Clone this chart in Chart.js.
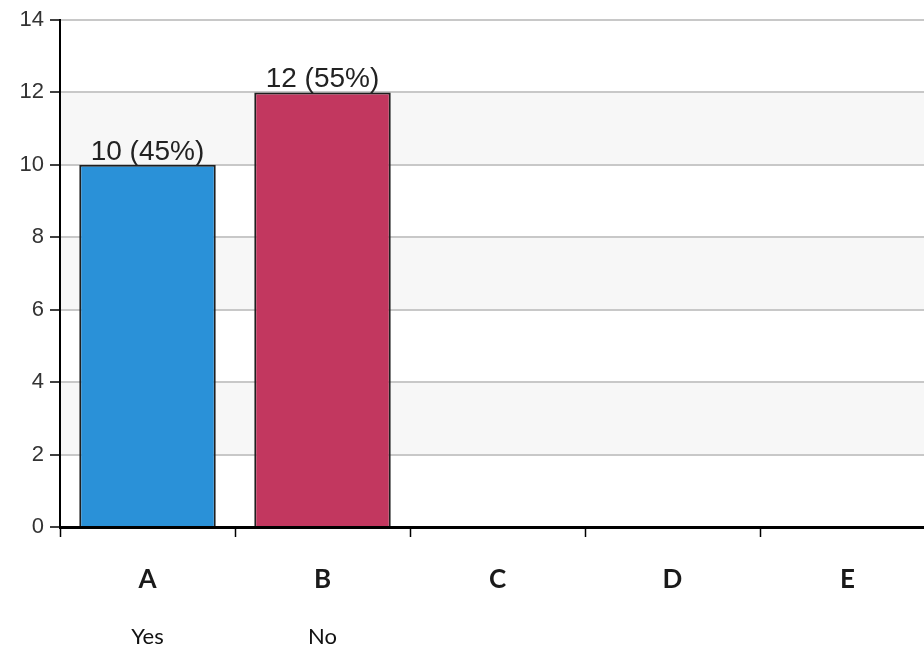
<!DOCTYPE html>
<html>
<head>
<meta charset="utf-8">
<script src="https://cdn.jsdelivr.net/npm/chart.js@4/dist/chart.umd.min.js"></script>
<style>
  html, body { margin: 0; padding: 0; background: #fff; overflow: hidden; }
  #wrap { position: absolute; left: 0; top: 0; width: 935px; height: 648px; }
</style>
</head>
<body>
<div id="wrap"><canvas id="c" width="935" height="648"></canvas></div>
<script>
// ---- data ----
const categories = ['A', 'B', 'C', 'D', 'E'];
const answerLabels = ['Yes', 'No', '', '', ''];
const counts = [10, 12, 0, 0, 0];
const percents = [45, 55, 0, 0, 0];
const barColors = ['#2a91d8', '#c2375f', '#2a91d8', '#c2375f', '#2a91d8'];
const yTicks = [0, 2, 4, 6, 8, 10, 12, 14];
const bandRanges = [[2, 4], [6, 8], [10, 12]];

const bandPlugin = {
  id: 'bands',
  beforeDraw(chart) {
    const { ctx, chartArea, scales } = chart;
    ctx.save();
    ctx.fillStyle = '#f7f7f7';
    bandRanges.forEach(([a, b]) => {
      const y1 = scales.y.getPixelForValue(b);
      const y2 = scales.y.getPixelForValue(a);
      ctx.fillRect(chartArea.left, y1, chartArea.right - chartArea.left, y2 - y1);
    });
    ctx.restore();
  }
};

const labelPlugin = {
  id: 'barLabels',
  afterDatasetsDraw(chart) {
    const { ctx } = chart;
    const meta = chart.getDatasetMeta(0);
    ctx.save();
    ctx.font = '28px "Liberation Sans", Arial, sans-serif';
    ctx.fillStyle = '#222';
    ctx.textAlign = 'center';
    ctx.textBaseline = 'alphabetic';
    meta.data.forEach((bar, i) => {
      if (!counts[i]) return;
      ctx.fillText(counts[i] + ' (' + percents[i] + '%)', bar.x, bar.y - 5);
    });
    ctx.restore();
  }
};

new Chart(document.getElementById('c'), {
  type: 'bar',
  data: {
    labels: categories,
    datasets: [{
      data: counts,
      backgroundColor: barColors,
      borderColor: '#1f1f1f',
      borderWidth: 2,
      categoryPercentage: 1,
      barPercentage: 0.78,
      xAxisID: 'x',
      yAxisID: 'y'
    }]
  },
  options: {
    responsive: false,
    animation: false,
    events: [],
    layout: { padding: { top: 20, left: 0, right: 0, bottom: 0 } },
    plugins: { legend: { display: false }, tooltip: { enabled: false } },
    scales: {
      y: {
        min: 0, max: 14,
        afterFit(scale) { scale.width = 60; },
        afterBuildTicks(scale) { scale.ticks = yTicks.map(v => ({ value: v })); },
        border: { display: true, color: '#000', width: 2 },
        grid: {
          color: '#c8c8c8', lineWidth: 2,
          drawTicks: true, tickLength: 10, tickColor: '#000', tickWidth: 1.5
        },
        ticks: {
          padding: 6,
          color: '#333',
          font: { family: '"Liberation Sans", Arial, sans-serif', size: 22 }
        }
      },
      x: {
        type: 'category',
        position: 'bottom',
        weight: 0,
        offset: true,
        afterFit(scale) { scale.height = 70; },
        border: { display: true, color: '#000', width: 3 },
        grid: {
          offset: true, drawOnChartArea: false,
          drawTicks: true, tickLength: 10, tickColor: '#000', tickWidth: 1.5
        },
        ticks: {
          padding: 27,
          color: '#1a1a1a',
          autoSkip: false,
          maxRotation: 0,
          font: { family: 'Lato, "Open Sans", sans-serif', size: 26, weight: 'bold' }
        }
      },
      x2: {
        type: 'category',
        position: 'bottom',
        weight: 1,
        offset: true,
        labels: answerLabels,
        afterFit(scale) { scale.height = 51; },
        border: { display: false },
        grid: { display: false },
        ticks: {
          padding: 19,
          color: '#111',
          autoSkip: false,
          maxRotation: 0,
          font: { family: 'Lato, "Open Sans", sans-serif', size: 22 }
        }
      }
    }
  },
  plugins: [bandPlugin, labelPlugin]
});
</script>
</body>
</html>
